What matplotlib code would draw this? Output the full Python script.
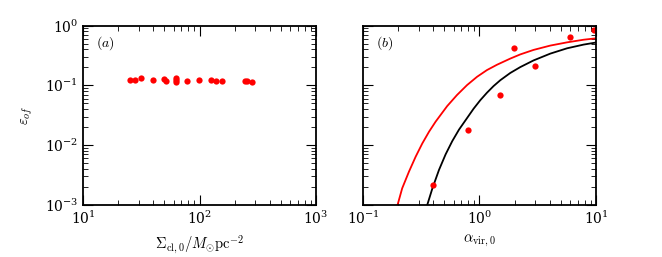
import numpy as np
import matplotlib
matplotlib.use('Agg')
import matplotlib.pyplot as plt

plt.rcParams['mathtext.fontset'] = 'cm'
plt.rcParams['font.family'] = 'serif'
plt.rcParams['font.serif'] = ['DejaVu Serif']
plt.rcParams['font.size'] = 10

# panel (a): surface density vs efficiency
sigma = [25.5, 27.9, 31.3, 39.6, 49.2, 51.3, 62.8, 62.8, 62.8, 78.5, 98.4,
         125.6, 139.6, 157, 245, 254, 280]
eps_a = [0.121, 0.122, 0.131, 0.121, 0.126, 0.120, 0.131, 0.121, 0.115, 0.118,
         0.122, 0.123, 0.119, 0.118, 0.120, 0.120, 0.114]

# panel (b): virial parameter vs efficiency
alpha = [0.4, 0.8, 1.5, 1.96, 2.97, 5.94, 9.7]
eps_b = [0.00216, 0.0176, 0.070, 0.415, 0.21, 0.642, 0.85]

# model curves
red_x = [0.198, 0.217, 0.248, 0.283, 0.323, 0.369, 0.420, 0.528, 0.641, 0.782,
         0.953, 1.159, 1.413, 1.837, 2.24, 2.91, 4.05, 5.64, 7.83, 10.0]
red_y = [0.001, 0.0019, 0.0036, 0.0064, 0.0107, 0.0168, 0.0247, 0.045, 0.0689,
         0.101, 0.139, 0.180, 0.221, 0.280, 0.329, 0.391, 0.462, 0.523, 0.579, 0.611]
blk_x = [0.356, 0.394, 0.449, 0.512, 0.584, 0.667, 0.890, 1.016, 1.159, 1.321,
         1.51, 1.837, 2.24, 2.91, 4.05, 5.64, 7.83, 10.0]
blk_y = [0.001, 0.00189, 0.00385, 0.00703, 0.0117, 0.0182, 0.0407, 0.0565, 0.0753,
         0.0973, 0.122, 0.161, 0.202, 0.261, 0.339, 0.416, 0.48, 0.52]

fig = plt.figure(figsize=(6.62, 2.57), dpi=100)
ax1 = fig.add_axes([0.1254, 0.2023, 0.352, 0.6984])
ax2 = fig.add_axes([0.5483, 0.2023, 0.352, 0.6984])

ax1.plot(sigma, eps_a, 'o', color='red', ms=4.5, mec='none')
ax1.set_xlim(10, 1000)
ax1.set_xlabel(r'$\Sigma_{\rm cl,0}/M_{\odot}{\rm pc}^{-2}$', fontsize=10.5)
ax1.set_ylabel(r'$\varepsilon_{of}$', fontsize=10.5, labelpad=7)
ax1.text(0.055, 0.9, r'$(a)$', transform=ax1.transAxes, va='center')

ax2.plot(red_x, red_y, color='red', lw=1.3)
ax2.plot(blk_x, blk_y, color='black', lw=1.3)
ax2.plot(alpha, eps_b, 'o', color='red', ms=4.5, mec='none')
ax2.set_xlim(0.1, 10)
ax2.set_xlabel(r'$\alpha_{\rm vir,0}$', fontsize=10.5)
ax2.text(0.055, 0.9, r'$(b)$', transform=ax2.transAxes, va='center')
ax2.tick_params(labelleft=False)

for ax in (ax1, ax2):
    ax.set_xscale('log')
    ax.set_yscale('log')
    ax.set_ylim(1e-3, 1)
    ax.tick_params(which='both', direction='in', top=True, right=True)
    ax.tick_params(which='major', length=7, width=0.8)
    ax.tick_params(which='minor', length=3.5, width=0.6)
    for s in ax.spines.values():
        s.set_linewidth(1.3)

fig.savefig('out.png', dpi=100)
